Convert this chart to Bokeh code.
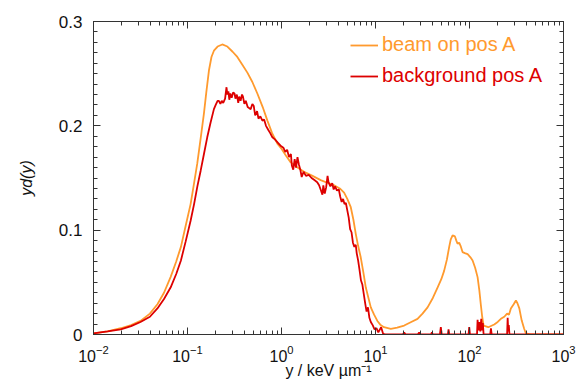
from bokeh.plotting import figure
from bokeh.models import (Range1d, FixedTicker, LogAxis, LinearAxis, Legend, LegendItem,
                          CustomJSTickFormatter)
from bokeh.embed import file_html
from bokeh.resources import INLINE

# ---- data (log10 of lineal energy y in keV/um, and y*d(y)) ----
beam_log10_y = [-2.00, -1.85, -1.71, -1.60, -1.50, -1.40, -1.32, -1.25, -1.18, -1.12, -1.07, -1.02,
                -0.967, -0.93, -0.896, -0.86, -0.825, -0.80, -0.772, -0.745, -0.719, -0.68, -0.63,
                -0.576, -0.52, -0.47, -0.42, -0.363, -0.31, -0.257, -0.20, -0.15, -0.10, -0.044,
                0.00, 0.05, 0.098, 0.17, 0.24, 0.33, 0.417, 0.50, 0.56, 0.62, 0.666, 0.70, 0.737,
                0.765, 0.79, 0.815, 0.843, 0.87, 0.897, 0.925, 0.95, 0.985, 1.02, 1.055, 1.09,
                1.163, 1.23, 1.305, 1.38, 1.447, 1.50, 1.554, 1.61, 1.66, 1.70, 1.73, 1.76, 1.784,
                1.80, 1.82, 1.845, 1.86, 1.873, 1.89, 1.905, 1.926, 1.95, 1.98, 2.01, 2.033, 2.06,
                2.086, 2.105, 2.12, 2.135, 2.15, 2.20, 2.263, 2.30, 2.334, 2.37, 2.40, 2.42, 2.44,
                2.47, 2.494, 2.51, 2.53, 2.555, 2.58, 2.60, 2.65, 3.00]
beam_yd = [0.001, 0.003, 0.006, 0.009, 0.013, 0.020, 0.029, 0.040, 0.055, 0.070, 0.084, 0.104,
           0.125, 0.145, 0.164, 0.188, 0.212, 0.232, 0.253, 0.266, 0.272, 0.276, 0.278,
           0.276, 0.271, 0.266, 0.259, 0.251, 0.242, 0.231, 0.218, 0.205, 0.193, 0.183,
           0.178, 0.171, 0.165, 0.160, 0.156, 0.152, 0.148, 0.145, 0.143, 0.140, 0.136, 0.130, 0.122,
           0.110, 0.0965, 0.085, 0.074, 0.060, 0.045, 0.035, 0.026, 0.019, 0.013, 0.009, 0.007,
           0.0054, 0.0065, 0.0086, 0.012, 0.015, 0.020, 0.026, 0.035, 0.045, 0.053, 0.061, 0.072, 0.084,
           0.091, 0.095, 0.094, 0.090, 0.087, 0.088, 0.085, 0.079, 0.078, 0.077, 0.074, 0.071, 0.064,
           0.055, 0.042, 0.029, 0.017, 0.0086, 0.007, 0.0096, 0.012, 0.015, 0.017, 0.020, 0.019, 0.025,
           0.029, 0.0326, 0.030, 0.025, 0.0136, 0.006, 0.001, 0.0, 0.0]

bg_log10_y = [-2.00, -1.85, -1.71, -1.60, -1.50, -1.40, -1.32, -1.25, -1.18, -1.12, -1.07, -1.02,
              -0.967, -0.93, -0.895, -0.86, -0.825, -0.79, -0.755, -0.719, -0.70, -0.68, -0.666,
              -0.65, -0.635, -0.62, -0.60, -0.585, -0.576, -0.565, -0.555, -0.545, -0.53, -0.515,
              -0.50, -0.49, -0.475, -0.46, -0.45, -0.435, -0.42, -0.41, -0.395, -0.38, -0.36,
              -0.345, -0.328, -0.31, -0.295, -0.28, -0.26, -0.245, -0.225, -0.203, -0.185, -0.165,
              -0.14, -0.12, -0.097, -0.07, -0.04, -0.01, 0.02, 0.04, 0.06, 0.08, 0.10, 0.11, 0.125,
              0.14, 0.155, 0.17, 0.185, 0.20, 0.215, 0.235, 0.26, 0.29, 0.32, 0.35, 0.38, 0.40,
              0.42, 0.435, 0.445, 0.46, 0.475, 0.49, 0.50, 0.52, 0.54, 0.555, 0.57, 0.59, 0.61,
              0.625, 0.64, 0.655, 0.67, 0.685, 0.70, 0.715, 0.73, 0.745, 0.76, 0.775, 0.79, 0.80,
              0.815, 0.83, 0.845, 0.86, 0.875, 0.89, 0.905, 0.92, 0.935, 0.95, 0.97, 0.99, 1.01,
              1.03, 1.06, 1.08, 1.10, 1.29, 1.305, 1.32, 1.45, 1.464, 1.48, 1.59, 1.60, 1.61,
              1.685, 1.695, 1.705, 1.77, 1.777, 1.785, 1.99, 1.997, 2.005, 2.08, 2.086, 2.095,
              2.105, 2.115, 2.125, 2.135, 2.142, 2.15, 2.22, 2.228, 2.236, 2.40, 2.406, 2.412,
              2.418, 2.425, 3.00]
bg_yd = [0.001, 0.003, 0.005, 0.008, 0.012, 0.017, 0.025, 0.034, 0.045, 0.058, 0.071, 0.089,
         0.109, 0.125, 0.142, 0.157, 0.173, 0.189, 0.203, 0.216, 0.220, 0.224, 0.224,
         0.221, 0.224, 0.222, 0.226, 0.237, 0.230, 0.233, 0.225, 0.231, 0.227, 0.232,
         0.231, 0.226, 0.230, 0.222, 0.228, 0.224, 0.230, 0.228, 0.221, 0.224, 0.218,
         0.217, 0.216, 0.221, 0.219, 0.210, 0.214, 0.207, 0.209, 0.205, 0.206, 0.200,
         0.196, 0.193, 0.189, 0.187, 0.184, 0.181, 0.179, 0.175, 0.177, 0.170, 0.173, 0.162, 0.158,
         0.168, 0.160, 0.170, 0.163, 0.158, 0.151, 0.156, 0.152, 0.153, 0.150, 0.148, 0.146, 0.143,
         0.138, 0.134, 0.143, 0.135, 0.141, 0.152, 0.146, 0.142, 0.145, 0.139, 0.142, 0.138, 0.139,
         0.132, 0.127, 0.130, 0.125, 0.126, 0.119, 0.112, 0.101, 0.098, 0.088, 0.084, 0.086, 0.078,
         0.071, 0.062, 0.052, 0.048, 0.039, 0.030, 0.022, 0.026, 0.016, 0.012, 0.009, 0.005, 0.006,
         0.002, 0.007, 0.001, 0.0, 0.0, 0.002, 0.0, 0.0, 0.002, 0.0, 0.0, 0.002, 0.0,
         0.0, 0.007, 0.0, 0.0, 0.005, 0.0, 0.0, 0.007, 0.0, 0.0, 0.014, 0.004,
         0.012, 0.003, 0.015, 0.004, 0.011, 0.0, 0.0, 0.006, 0.0, 0.0, 0.016, 0.003,
         0.009, 0.0, 0.0]

series_labels = ["beam on pos A", "background pos A"]
x_ticks = [0.01, 0.1, 1, 10, 100, 1000]
y_ticks = [0.0, 0.1, 0.2, 0.3]

ORANGE = "#FF9A2E"
RED = "#DD0000"
AX = "#333333"
FONT = "Liberation Sans"

beam_x = [10 ** v for v in beam_log10_y]
bg_x = [10 ** v for v in bg_log10_y]

p = figure(width=586, height=387, x_axis_type="log",
           x_range=Range1d(0.01, 1000), y_range=Range1d(0, 0.3),
           output_backend="svg", toolbar_location=None,
           min_border_left=93, min_border_right=23, min_border_top=21, min_border_bottom=53)
p.grid.visible = False
p.outline_line_color = AX
p.background_fill_color = "white"
p.border_fill_color = "white"

x_minor = [m * d for d in [0.01, 0.1, 1, 10, 100] for m in range(2, 10)]
y_minor = [i / 100 for i in range(31)]
xt = FixedTicker(ticks=x_ticks, minor_ticks=x_minor)
yt = FixedTicker(ticks=y_ticks, minor_ticks=y_minor)


def style_axis(ax, labels=True, size="16px"):
    ax.axis_line_color = AX
    ax.major_tick_line_color = AX
    ax.minor_tick_line_color = AX
    ax.major_tick_in = 7
    ax.major_tick_out = 0
    ax.minor_tick_in = 4
    ax.minor_tick_out = 0
    ax.major_label_text_font = FONT
    ax.major_label_text_font_size = size
    ax.major_label_text_color = "#111111"
    ax.axis_label_text_font = FONT
    ax.axis_label_text_font_size = "16px"
    ax.axis_label_text_color = "#111111"
    if not labels:
        ax.major_label_text_font_size = "1px"
        ax.major_label_text_color = None
        ax.major_label_standoff = 0


xa = p.xaxis[0]
xa.ticker = xt
style_axis(xa)
xa.axis_label = "y / keV µm⁻¹"
xa.axis_label_text_font_style = "normal"
xa.major_label_standoff = 10
xa.axis_label_standoff = -3

ya = p.yaxis[0]
ya.ticker = yt
style_axis(ya, size="17px")
ya.formatter = CustomJSTickFormatter(code="return tick === 0 ? '0' : tick.toFixed(1);")
ya.axis_label = "yd(y)"
ya.axis_label_text_font_style = "italic"
ya.major_label_standoff = 11
ya.axis_label_standoff = 21

top = LogAxis(ticker=FixedTicker(ticks=x_ticks, minor_ticks=x_minor))
style_axis(top, labels=False)
p.add_layout(top, "above")
right = LinearAxis(ticker=FixedTicker(ticks=y_ticks, minor_ticks=y_minor))
style_axis(right, labels=False)
p.add_layout(right, "right")

r1 = p.line(beam_x, beam_yd, line_color=ORANGE, line_width=1.8)
r2 = p.line(bg_x, bg_yd, line_color=RED, line_width=1.8)

for r, lab, col, loc in [(r1, series_labels[0], ORANGE, (257, 278)),
                         (r2, series_labels[1], RED, (257, 247))]:
    lg = Legend(items=[LegendItem(label=lab, renderers=[r])], location=loc,
                label_text_font=FONT, label_text_font_size="20px", label_text_color=col,
                glyph_width=28, glyph_height=20, label_height=20, label_standoff=4,
                padding=0, margin=0, spacing=0, border_line_color=None,
                background_fill_alpha=0)
    p.add_layout(lg)

open("out.html", "w").write(file_html(p, INLINE))
